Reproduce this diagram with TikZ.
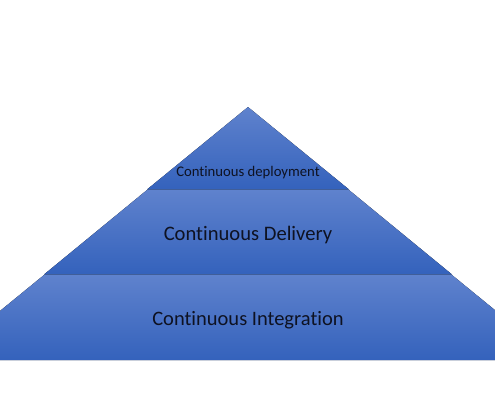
\documentclass[tikz,border=0pt]{standalone}
\usepackage{fontspec}
\setmainfont[Ligatures=NoCommon]{Carlito}
\definecolor{layertop}{HTML}{5F82CD}
\definecolor{layermid}{HTML}{4472C4}
\definecolor{layerbot}{HTML}{3462BC}
\definecolor{labeltext}{HTML}{0E1222}
\begin{document}
\begin{tikzpicture}[x=1pt, y=1pt, line join=round,
		layer/.style={top color=layertop, middle color=layermid, bottom color=layerbot},
		label/.style={anchor=base, text=labeltext, inner sep=0pt}]
	
	% Khung hình
	\useasboundingbox (0,0) rectangle (495,400);
	\clip (0,0) rectangle (495,400);
	
	% Tầng dưới
	\fill[layer] (44,125) -- (452,125) -- (556,40) -- (-60,40) -- cycle;
	
	% Tầng giữa
	\fill[layer] (147,210) -- (349,210) -- (452,125.5) -- (44,125.5) -- cycle;
	
	% Tầng trên
	\fill[layer] (248,293) -- (349,210.5) -- (147,210.5) -- cycle;
	
	% Nhãn
	\node[label, font=\fontsize{14.7}{17}\selectfont] (deploy) at (248,224) {Continuous deployment};
	\node[label, font=\fontsize{20.6}{24}\selectfont] (delivery) at (248,160) {Continuous Delivery};
	\node[label, font=\fontsize{20.5}{24}\selectfont] (integ) at (248,75) {Continuous Integration};
	
\end{tikzpicture}
\end{document}
